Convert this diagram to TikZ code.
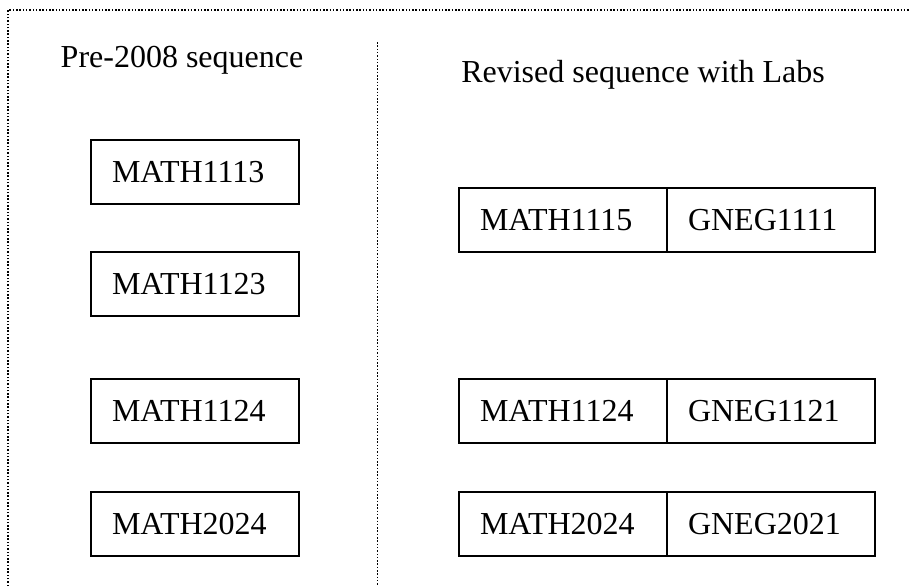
\documentclass[tikz,border=0pt]{standalone}
\usepackage{fontspec}
\setmainfont{Liberation Serif}
\begin{document}
\begin{tikzpicture}[x=0.5pt,y=-0.5pt,
  cell/.style={draw, line width=1pt, anchor=north west, minimum width=104pt, minimum height=32pt,
    inner xsep=10.5pt, inner ysep=0pt, text width=83pt, align=left, font=\fontsize{16}{19}\selectfont},
  title/.style={anchor=base, inner sep=0pt, font=\fontsize{16}{19}\selectfont},
  dotline/.style={line width=0.75pt, dash pattern=on 0.75pt off 0.9pt}]
\useasboundingbox (0,0) rectangle (910,586);
% frame
\coordinate (tl) at (8,10);
\coordinate (tr) at (910,10);
\coordinate (bl) at (8,586);
\coordinate (mt) at (377.5,42);
\coordinate (mb) at (377.5,586);
\draw[dotline] (bl) -- (tl) -- (tr);
\draw[dotline] (mt) -- (mb);
% titles
\node[title] (t1) at (182,67) {Pre-2008 sequence};
\node[title] (t2) at (643,82) {Revised sequence with Labs};
% left column
\node[cell] (l1) at (90,139) {MATH1113};
\node[cell] (l2) at (90,251) {MATH1123};
\node[cell] (l3) at (90,378) {MATH1124};
\node[cell] (l4) at (90,491) {MATH2024};
% right column
\node[cell] (r1a) at (458,187) {MATH1115};
\node[cell] (r1b) at (666,187) {GNEG1111};
\node[cell] (r2a) at (458,378) {MATH1124};
\node[cell] (r2b) at (666,378) {GNEG1121};
\node[cell] (r3a) at (458,491) {MATH2024};
\node[cell] (r3b) at (666,491) {GNEG2021};
\end{tikzpicture}
\end{document}
